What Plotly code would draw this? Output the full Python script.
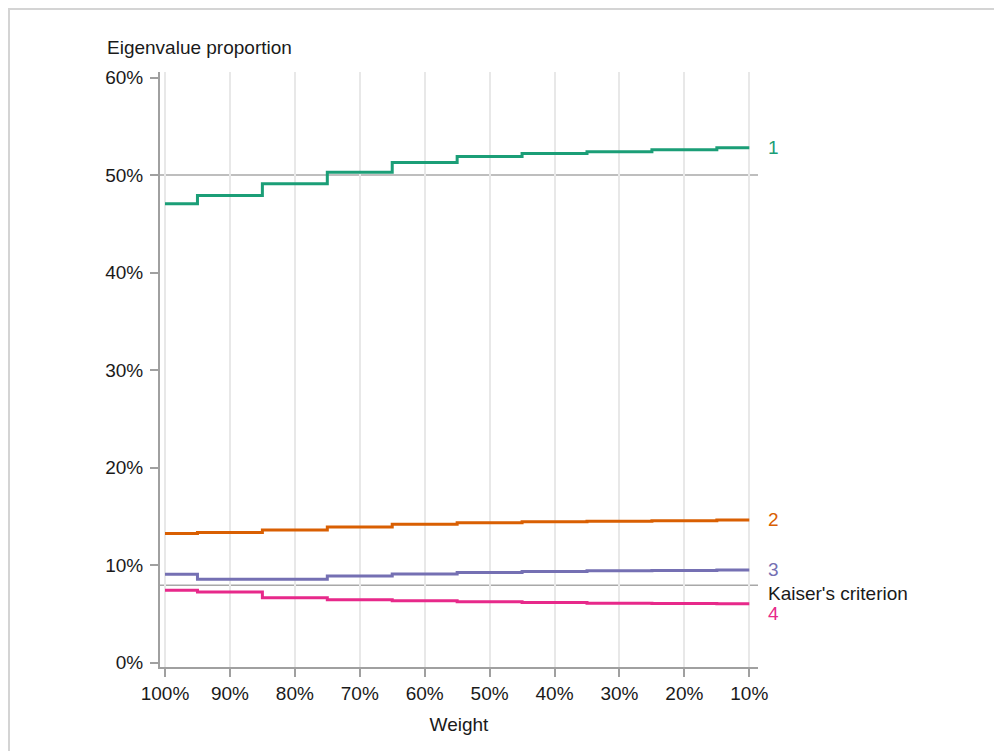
import plotly.graph_objects as go

# Weight levels (percent) and eigenvalue proportions (percent) per component
weights = [100, 90, 80, 70, 60, 50, 40, 30, 20, 10]
weight_labels = ["100%", "90%", "80%", "70%", "60%", "50%", "40%", "30%", "20%", "10%"]

comp1 = [47.05, 47.9, 49.1, 50.3, 51.3, 51.9, 52.2, 52.4, 52.6, 52.8]
comp2 = [13.25, 13.35, 13.6, 13.9, 14.2, 14.35, 14.45, 14.5, 14.56, 14.63]
comp3 = [9.05, 8.55, 8.55, 8.87, 9.1, 9.25, 9.35, 9.42, 9.45, 9.5]
comp4 = [7.43, 7.23, 6.64, 6.44, 6.34, 6.24, 6.17, 6.1, 6.06, 6.03]

components = ["1", "2", "3", "4"]
series = [comp1, comp2, comp3, comp4]
colors = ["#1b9e77", "#d95f02", "#7570b3", "#e7298a"]
label_shift = [0, 0, 0, -10]

kaiser = 7.94
half_line = 50

y_ticks = [0, 10, 20, 30, 40, 50, 60]
y_tick_labels = ["0%", "10%", "20%", "30%", "40%", "50%", "60%"]

FONT = "Liberation Sans, Arial, sans-serif"
FS = 19
W, H = 994, 751
L, R, T, B = 160, 236, 72, 84
PW, PH = W - L - R, H - T - B

fig = go.Figure()

for name, vals, col in zip(components, series, colors):
    fig.add_trace(go.Scatter(
        x=weights, y=vals, mode="lines", name=name,
        line=dict(color=col, width=3, shape="hvh"),
        showlegend=False, hoverinfo="skip",
    ))

# Reference lines at 50% and Kaiser's criterion
for yv in (half_line, kaiser):
    fig.add_shape(type="line", xref="paper", yref="y", x0=0, x1=1, y0=yv, y1=yv,
                  line=dict(color="#a8a8a8", width=1.5), layer="below")

# End-of-line labels
for name, vals, col, dy in zip(components, series, colors, label_shift):
    fig.add_annotation(xref="paper", yref="y", x=1, y=vals[-1], xshift=8, yshift=dy,
                       text=name, showarrow=False, xanchor="left", yanchor="middle",
                       font=dict(family=FONT, size=FS, color=col))
fig.add_annotation(xref="paper", yref="y", x=1, y=kaiser, xshift=8, yshift=-8,
                   text="Kaiser's criterion", showarrow=False, xanchor="left",
                   yanchor="middle", font=dict(family=FONT, size=FS, color="#1a1a1a"))

# Outer frame along the top and left edges
def px(xp):
    return (xp - L) / PW

def py(yp):
    return (H - B - yp) / PH

fig.add_shape(type="path", xref="paper", yref="paper",
              path=f"M {px(9)} {py(H + 5)} L {px(9)} {py(9)} L {px(W + 5)} {py(9)}",
              line=dict(color="#d4d4d4", width=2))

fig.update_layout(
    width=W, height=H,
    margin=dict(l=L, r=R, t=T, b=B, pad=0),
    paper_bgcolor="white", plot_bgcolor="white",
    font=dict(family=FONT, size=FS, color="#1a1a1a"),
    title=dict(text="Eigenvalue proportion", x=107 / W, xanchor="left",
               y=1 - 47 / H, yanchor="middle", xref="container", yref="container",
               font=dict(family=FONT, size=FS, color="#1a1a1a")),
    xaxis=dict(
        range=[100.77, 8.66], tickvals=weights, ticktext=weight_labels,
        showgrid=True, gridcolor="#e8e8e8", gridwidth=1.5,
        showline=True, linecolor="#a0a0a0", linewidth=2,
        ticks="outside", ticklen=8, tickwidth=1.5, tickcolor="#a0a0a0",
        zeroline=False, tickfont=dict(size=FS),
        title=dict(text="Weight", standoff=15, font=dict(size=FS)),
    ),
    yaxis=dict(
        range=[-0.45, 60.57], tickvals=y_ticks, ticktext=y_tick_labels,
        showgrid=False, showline=True, linecolor="#a0a0a0", linewidth=2,
        ticks="outside", ticklen=8, tickwidth=1.5, tickcolor="#a0a0a0",
        ticklabelstandoff=3,
        zeroline=False, tickfont=dict(size=FS),
    ),
)

fig.write_html("out.html")
